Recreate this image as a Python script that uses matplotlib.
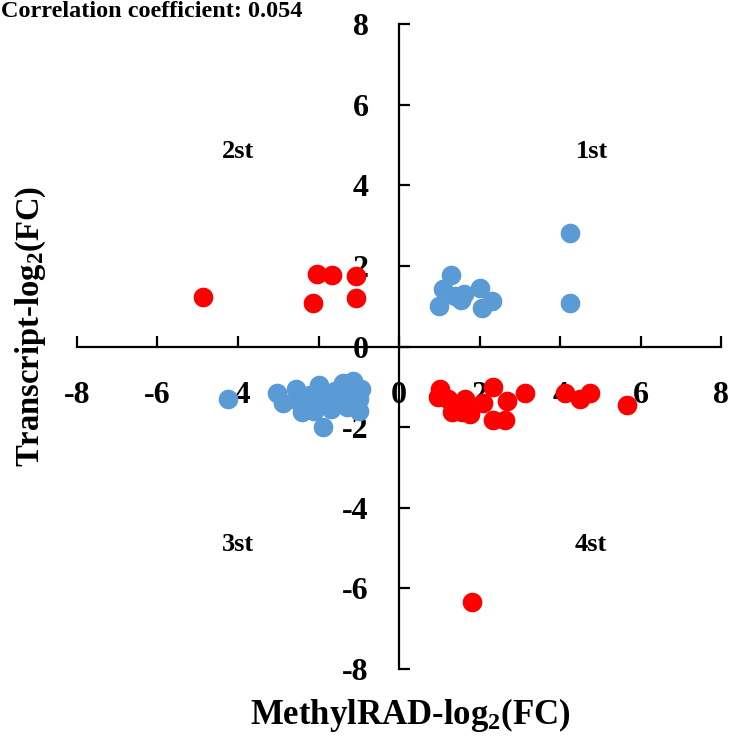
import matplotlib
matplotlib.use('Agg')
import matplotlib.pyplot as plt

plt.rcParams['font.family'] = ['Liberation Serif', 'DejaVu Serif']
plt.rcParams['font.weight'] = 'bold'
plt.rcParams['mathtext.fontset'] = 'custom'
plt.rcParams['mathtext.rm'] = 'Liberation Serif:bold'
plt.rcParams['mathtext.default'] = 'rm'
plt.rcParams['axes.unicode_minus'] = False

# blue: same direction
blue_x = [1.0, 1.1, 1.3, 1.4, 1.6, 1.55, 2.0, 2.05, 2.3, 4.25, 4.25,
          -4.25, -3.03, -2.89,
          -2.55, -2.5, -2.35, -2.2, -2.1, -2.0, -1.9, -1.89, -1.7, -1.6,
          -1.5, -1.4, -1.3, -1.2, -1.1, -1.0, -0.95, -1.0, -2.4, -1.15]
blue_y = [1.0, 1.44, 1.78, 1.25, 1.31, 1.15, 1.46, 0.97, 1.14, 2.82, 1.09,
          -1.29, -1.16, -1.39,
          -1.05, -1.35, -1.55, -1.2, -1.6, -0.95, -1.35, -2.0, -1.55, -1.1,
          -1.3, -0.9, -1.5, -1.15, -1.4, -1.6, -1.05, -1.3, -1.63, -0.85]

# red: opposite direction
red_x = [-4.88, -2.04, -1.67, -1.07, -2.14, -1.07,
         1.02, 0.97, 1.22, 1.32, 1.64, 1.57, 1.77, 2.09, 2.34, 2.69,
         2.34, 2.64, 3.13, 4.13, 4.5, 4.75, 5.67, 1.82]
red_y = [1.24, 1.8, 1.78, 1.76, 1.09, 1.21,
         -1.04, -1.26, -1.29, -1.63, -1.29, -1.63, -1.66, -1.41, -1.01, -1.34,
         -1.83, -1.83, -1.16, -1.14, -1.29, -1.16, -1.46, -6.34]

quad_labels = ['1st', '2st', '3st', '4st']
quad_pos = [(4.8, 4.85), (-4.0, 4.85), (-4.0, -4.9), (4.75, -4.9)]
ticks = [-8, -6, -4, -2, 0, 2, 4, 6, 8]

fig = plt.figure(figsize=(7.39, 7.48), dpi=100)
ax = fig.add_axes([0.104, 0.1056, 0.872, 0.862])

ax.scatter(blue_x, blue_y, s=200, color='#5B9BD5', linewidths=0, zorder=3)
ax.scatter(red_x, red_y, s=200, color='#FF0000', linewidths=0, zorder=3)

ax.set_xlim(-8, 8)
ax.set_ylim(-8, 8)
ax.spines['left'].set_position('zero')
ax.spines['bottom'].set_position('zero')
ax.spines['right'].set_visible(False)
ax.spines['top'].set_visible(False)
for s in ['left', 'bottom']:
    ax.spines[s].set_linewidth(1.6)
ax.set_xticks(ticks)
ax.set_yticks(ticks)
ax.tick_params(axis='x', direction='in', length=8, width=1.6, pad=25, labelsize=23)
ax.tick_params(axis='y', direction='in', length=8, width=1.6, pad=22, labelsize=23)

for lab, (qx, qy) in zip(quad_labels, quad_pos):
    ax.text(qx, qy, lab, ha='center', va='center', fontsize=19, fontweight='bold')

fig.text(0.555, 0.044, r'MethylRAD-log$_2$(FC)', ha='center', va='center',
         fontsize=25, fontweight='bold')
fig.text(0.042, 0.564, r'Transcript-log$_2$(FC)', ha='center', va='center',
         rotation=90, fontsize=23.5, fontweight='bold')
fig.text(0.002, 0.984, 'Correlation coefficient: 0.054', ha='left', va='center',
         fontsize=17.5, fontweight='bold')

fig.savefig('out.png', dpi=100)
